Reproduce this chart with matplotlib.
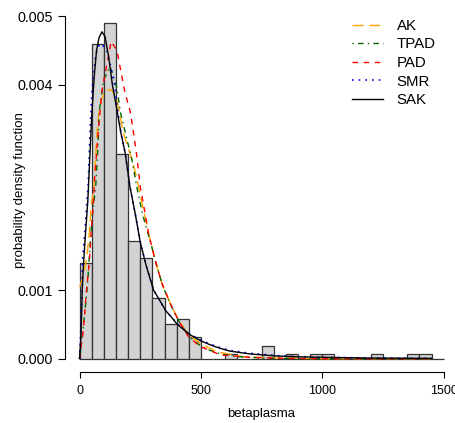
import numpy as np
import matplotlib
matplotlib.use("Agg")
import matplotlib.pyplot as plt

plt.rcParams['font.family'] = ['Liberation Sans', 'DejaVu Sans']

# histogram of betaplasma (bin width 50), counts per bin
bin_edges = np.arange(0, 1501, 50)
bin_counts = [22, 72, 77, 47, 27, 23, 14, 8, 9, 5,
              0, 0, 1, 0, 0, 3, 0, 1, 0, 1,
              1, 0, 0, 0, 1, 0, 0, 1, 1, 0]

# fitted densities, sampled by eye from the reference
ak_x = [0, 16, 30, 40, 48, 58, 65, 72, 80, 90, 105, 126, 140, 154, 181, 216, 229, 243, 263,
        284, 298, 311, 339, 373, 407, 449, 497, 565, 675, 800, 1000, 1450]
ak_y = [0.00105, 0.0012, 0.00149, 0.00183, 0.00222, 0.00248, 0.00288, 0.0033, 0.0036, 0.00378,
        0.0039, 0.00393, 0.00388, 0.00377, 0.00329, 0.0029, 0.00273, 0.00251, 0.00217,
        0.00183, 0.00163, 0.00144, 0.0011, 0.00081, 0.00057, 0.00035, 0.000225, 0.0001,
        0.00003, 0.00001, 0.0, 0.0]

tpad_x = [0, 3, 12, 20, 28, 35, 44, 51, 58, 67, 76, 81, 99, 126, 154, 168, 195, 216, 236,
          260, 284, 300, 311, 339, 373, 407, 449, 497, 531, 579, 650, 750, 900, 1450]
tpad_y = [0.0, 0.0001, 0.00035, 0.00063, 0.0009, 0.0012, 0.0017, 0.00203, 0.00225, 0.00254,
          0.00312, 0.0036, 0.00407, 0.00426, 0.00395, 0.0036, 0.0032, 0.0029, 0.0025,
          0.0021, 0.0018, 0.0016, 0.00144, 0.0011, 0.0008, 0.00056, 0.00033, 0.00019,
          0.00013, 0.00007, 0.00003, 0.00001, 0.0, 0.0]

pad_x = [0, 3, 12, 20, 26, 30, 37, 44, 48, 57, 62, 70, 80, 92, 113, 130, 154, 175, 188, 209,
         222, 236, 250, 270, 284, 298, 311, 339, 373, 407, 449, 497, 531, 579, 700, 850, 1000, 1450]
pad_y = [0.0, 0.0001, 0.00032, 0.0006, 0.0009, 0.00105, 0.0013, 0.00159, 0.00188, 0.00228,
         0.00263, 0.003, 0.00345, 0.0039, 0.0043, 0.00463, 0.0045, 0.0041, 0.00387, 0.0036,
         0.0033, 0.00295, 0.00251, 0.00212, 0.00183, 0.00163, 0.00144, 0.0011, 0.00081,
         0.00056, 0.00032, 0.000175, 0.00013, 0.000055, 0.00002, 0.000005, 0.0, 0.0]

smr_x = [0, 3, 7, 10, 12, 17, 25, 30, 35, 44, 51, 65, 75, 88, 100, 112, 126, 144, 154, 170,
         188, 208, 230, 250, 275, 305, 330, 355, 380, 400, 430, 455, 500, 540, 580, 620, 700,
         810, 900, 1000, 1200, 1450]
smr_y = [0.0, 0.00023, 0.00067, 0.001, 0.00144, 0.00164, 0.002, 0.0023, 0.0025, 0.0034,
         0.0039, 0.0044, 0.00455, 0.0046, 0.00455, 0.0045, 0.0043, 0.004, 0.0037, 0.0033,
         0.003, 0.0025, 0.0021, 0.0017, 0.00135, 0.001, 0.00085, 0.0007, 0.0006, 0.00052,
         0.00043, 0.00036, 0.00027, 0.00021, 0.00016, 0.00012, 0.00008, 0.000045, 0.00003,
         0.00002, 0.00001, 0.000005]

sak_x = [0, 5, 8, 11, 15, 22, 34, 43, 51, 60, 70, 80, 92, 105, 120, 135, 154, 170, 188, 208,
         230, 250, 275, 305, 330, 355, 380, 400, 430, 455, 500, 540, 580, 620, 700, 810, 900,
         1000, 1200, 1450]
sak_y = [0.0, 0.0003, 0.0006, 0.001, 0.0013, 0.0017, 0.0023, 0.003, 0.0036, 0.0041, 0.0045,
         0.00468, 0.00477, 0.0047, 0.0044, 0.004, 0.00363, 0.0033, 0.003, 0.0025, 0.0021,
         0.0017, 0.00135, 0.001, 0.00085, 0.0007, 0.0006, 0.00051, 0.00042, 0.00035, 0.00026,
         0.0002, 0.00015, 0.00011, 0.00007, 0.00004, 0.000028, 0.00002, 0.00001, 0.000005]

x_ticks = [0, 500, 1000, 1500]
y_ticks = [0.000, 0.001, 0.004, 0.005]
y_tick_labels = ["0.000", "0.001", "0.004", "0.005"]

fig = plt.figure(figsize=(4.56, 4.23), dpi=100)
ax = fig.add_axes([65 / 456, 50.6 / 423, 393.3 / 456, 370.1 / 423])

dens = np.array(bin_counts) / (sum(bin_counts) * 50.0)
ax.bar(bin_edges[:-1], dens, width=50, align='edge', color='#d3d3d3',
       edgecolor='#333333', linewidth=0.9)

ax.plot(ak_x, ak_y, color='orange', lw=1.0, dashes=(8, 4), label='AK')
ax.plot(tpad_x, tpad_y, color='darkgreen', lw=1.0, dashes=(1, 3, 4, 3), label='TPAD')
ax.plot(pad_x, pad_y, color='red', lw=1.0, dashes=(4, 4), label='PAD')
ax.plot(smr_x, smr_y, color='blue', lw=1.2, dashes=(1, 3), label='SMR')
ax.plot(sak_x, sak_y, color='black', lw=1.0, label='SAK')

ax.set_xlim(-60, 1560)
ax.set_ylim(-0.0002, 0.0052)
for s in ['top', 'right']:
    ax.spines[s].set_visible(False)
ax.spines['left'].set_bounds(0, 0.005)
ax.spines['bottom'].set_bounds(0, 1500)
ax.spines['left'].set_linewidth(0.8)
ax.spines['bottom'].set_linewidth(0.8)

ax.set_xticks(x_ticks)
ax.set_yticks(y_ticks)
ax.set_yticklabels(y_tick_labels)
ax.tick_params(axis='x', length=4.5, width=0.8, pad=4.5, labelsize=9)
ax.tick_params(axis='y', length=4.8, width=0.8, pad=3.6, labelsize=10.3)

ax.set_xlabel("betaplasma", fontsize=9.5, labelpad=8)
ax.set_ylabel("probability density function", fontsize=9.5)
# R puts the y title close to the edge, over the tick labels' column
ax.yaxis.set_label_coords(26 / 456, 1 - 190 / 423, transform=fig.transFigure)

ax.legend(loc='upper left', bbox_to_anchor=(351.5 / 456, 1 - 19 / 423),
          bbox_transform=fig.transFigure, frameon=False, fontsize=10.8,
          handlelength=2.1, handletextpad=0.9, labelspacing=0.3,
          borderpad=0, borderaxespad=0)

fig.savefig("out.png", dpi=100)
